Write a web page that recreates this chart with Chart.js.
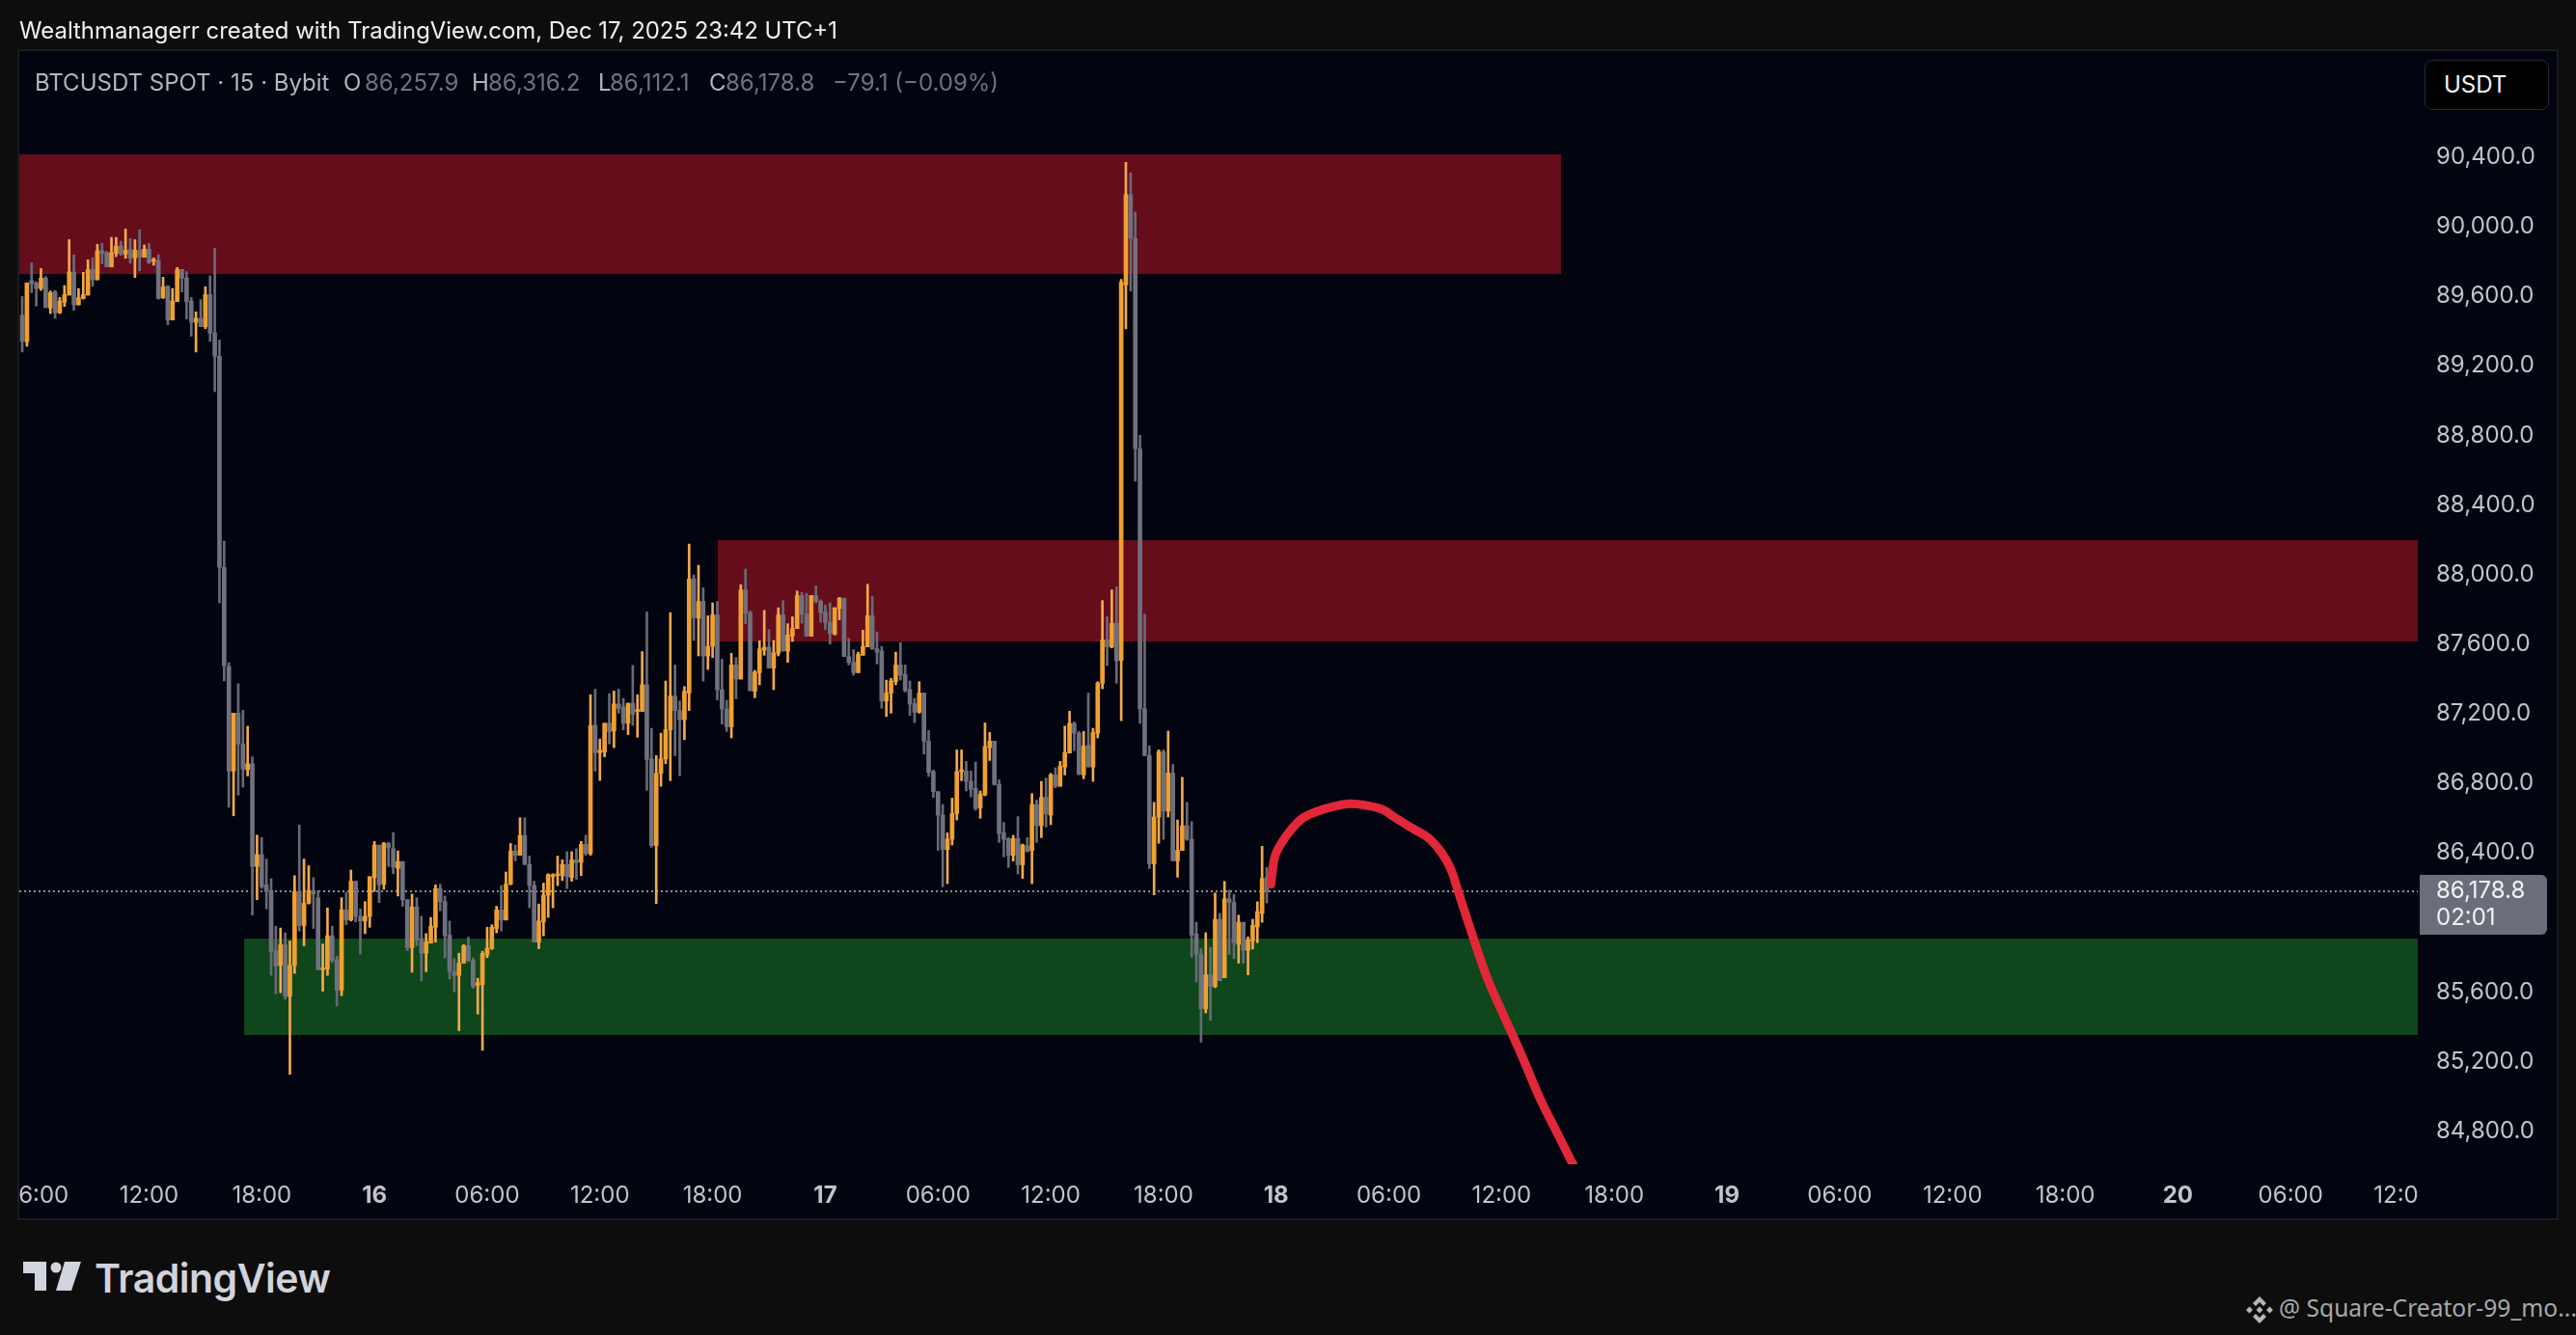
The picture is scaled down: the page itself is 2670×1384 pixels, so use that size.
<!DOCTYPE html>
<html>
<head>
<meta charset="utf-8">
<title>BTCUSDT 15</title>
<script src="https://cdn.jsdelivr.net/npm/chart.js@4/dist/chart.umd.min.js"></script>
<style>
  html, body { margin: 0; padding: 0; background: #0d0d0d; }
  body { position: relative; width: 2670px; height: 1384px; overflow: hidden; font-family: Inter, sans-serif; }
  .abs { position: absolute; white-space: nowrap; line-height: 1; }
  #panel { position: absolute; left: 18px; top: 51px; width: 2630px; height: 1210px; border: 2px solid #1c1c20; background: #02040f; }
  #chart { position: absolute; left: 20px; top: 0; }
  #x-mask { position: absolute; left: 2506px; top: 1207px; width: 142px; height: 54px; background: #02040f; }
  #header { left: 20px; top: 20px; font-size: 23.9px; color: #f0f0f0; }
  .legend { top: 74px; font-size: 24px; color: #b4b6bd; }
  .legend.val { color: #70737e; }
  #unit { position: absolute; left: 2513px; top: 62px; width: 127px; height: 50px; background: #000; border: 1px solid #2a2a2e; border-radius: 8px; }
  #unit span { position: absolute; left: 19px; top: 13px; font-size: 24px; line-height: 1; color: #f4f4f4; }
  #last { position: absolute; left: 2508px; top: 907px; width: 132px; height: 62px; background: #6b6e7a; border-radius: 0 6px 6px 0; color: #f2f2f2; font-size: 24px; }
  #last span { position: absolute; left: 17px; line-height: 1; }
  #brand { left: 98px; top: 1305px; font-size: 41px; font-weight: 600; letter-spacing: -0.5px; color: #d1d4dc; }
  #credit { left: 2362px; top: 1344px; font-family: "Noto Sans", sans-serif; font-size: 24.6px; color: #a6a8af; }
</style>
</head>
<body>
<div id="panel"></div>
<canvas id="chart" width="2630" height="1263"></canvas>
<div id="x-mask"></div>

<div class="abs" id="header">Wealthmanagerr created with TradingView.com, Dec 17, 2025 23:42 UTC+1</div>
<div class="abs legend" style="left:36px">BTCUSDT SPOT · 15 · Bybit</div>
<div class="abs legend" style="left:356px">O</div><div class="abs legend val" style="left:378px">86,257.9</div>
<div class="abs legend" style="left:489px">H</div><div class="abs legend val" style="left:506px">86,316.2</div>
<div class="abs legend" style="left:620px">L</div><div class="abs legend val" style="left:632px">86,112.1</div>
<div class="abs legend" style="left:735px">C</div><div class="abs legend val" style="left:752px">86,178.8</div>
<div class="abs legend val" style="left:863px">−79.1 (−0.09%)</div>

<div id="unit"><span>USDT</span></div>
<div id="last"><span style="top:4px">86,178.8</span><span style="top:32px">02:01</span></div>

<svg class="abs" style="left:24px;top:1308px" width="60" height="31" viewBox="0 0 60 31">
  <path fill="#d1d4dc" d="M0 0H24V30H12V12H0Z"/>
  <circle fill="#d1d4dc" cx="34" cy="6" r="5.5"/>
  <path fill="#d1d4dc" d="M43 0H60L50 30H34Z"/>
</svg>
<div class="abs" id="brand">TradingView</div>

<svg class="abs" style="left:2328px;top:1344px" width="28" height="28" viewBox="0 0 28 28">
  <path fill="#b4b6bc" d="M14 0L21 7L18 10L14 6L10 10L7 7Z M14 28L7 21L10 18L14 22L18 18L21 21Z M3.5 10.5L7 14L3.5 17.5L0 14Z M24.5 10.5L28 14L24.5 17.5L21 14Z M14 10.5L17.5 14L14 17.5L10.5 14Z"/>
</svg>
<div class="abs" id="credit">@ Square-Creator-99_mo...</div>

<script>
// ========== DATA ==========

const opens = [
  89491,89338,89689,89676,89644,89704,89532,89624,89504,89565,
  89606,89739,89550,89587,89606,89753,89694,89861,89851,89768,
  89846,89888,89842,89868,89820,89864,89824,89870,89800,89805,
  89591,89657,89463,89569,89753,89705,89572,89450,89473,89425,
  89609,89390,89255,88041,87472,86870,87203,87026,86878,86912,
  86322,86390,86216,86184,85838,85753,85872,85575,85753,86178,
  85982,86110,86184,86142,85728,85732,85923,85787,85611,86072,
  86014,86237,86035,86008,86035,86258,86445,86220,86454,86424,
  86311,86350,86131,85855,86089,85908,85823,85881,85972,86195,
  86120,85929,85717,85696,85766,85866,85781,85639,85643,85813,
  85849,85965,86072,86014,86220,86411,86386,86500,86333,86212,
  85887,86004,86156,86263,86269,86269,86333,86258,86360,86347,
  86449,86396,87133,86976,86980,87145,87101,87256,87239,87145,
  87260,87213,87213,87366,86940,86442,86857,86940,87107,87301,
  87218,87166,87319,87975,87750,87846,87532,87587,87768,87338,
  87227,87125,87480,87399,87911,87781,87329,87436,87565,87582,
  87462,87547,87768,87560,87646,87689,87879,87772,87646,87879,
  87846,87785,87726,87658,87805,87864,87528,87495,87436,87536,
  87584,87763,87573,87560,87273,87319,87384,87480,87425,87338,
  87258,87208,87319,87042,86867,86752,86617,86419,86478,86626,
  86867,86870,86811,86770,86658,86733,87005,87042,86793,86515,
  86482,86386,86482,86331,86441,86414,86678,86556,86719,86617,
  86848,86783,86894,86974,87144,87088,86848,87018,86894,87088,
  87375,87624,87584,87720,87506,89664,90184,89932,88723,87228,
  86959,86337,86606,86982,86640,86858,86354,86414,86556,86478,
  85934,85816,85504,85699,85632,86018,85682,86136,86115,85874,
  86001,85840,85894,85974,86052,86257.9,
];
const highs = [
  89598,89676,89792,89683,89759,89713,89630,89633,89593,89661,
  89925,89838,89644,89737,89809,89820,89898,89903,89857,89938,
  89938,89916,89986,89931,89925,89981,89894,89903,89820,89838,
  89709,89661,89644,89765,89753,89741,89593,89510,89580,89654,
  89717,89875,89349,88192,87493,87203,87372,87220,87128,86952,
  86502,86488,86364,86252,85978,85968,85940,85893,86269,86560,
  86364,86326,86258,86184,85876,86084,85978,85806,86142,86173,
  86301,86237,86078,86120,86263,86466,86445,86460,86460,86517,
  86411,86350,86131,86163,86142,86035,85936,86029,86216,86220,
  86152,86008,85792,85823,85872,85915,85796,85679,85834,85972,
  85987,86093,86212,86290,86454,86445,86602,86602,86381,86237,
  86106,86226,86280,86280,86381,86360,86407,86407,86424,86466,
  86502,87309,87341,87054,87145,87315,87330,87341,87288,87260,
  87478,87309,87557,87785,87116,86959,87088,87388,87781,87480,
  87273,87356,88175,87998,88053,87924,87763,87837,87846,87513,
  87277,87547,87523,87942,88031,87791,87449,87619,87794,87683,
  87621,87809,87850,87717,87757,87905,87898,87892,87879,87935,
  87855,87824,87837,87809,87868,87864,87633,87569,87554,87680,
  87944,87874,87670,87587,87393,87403,87554,87609,87480,87388,
  87288,87384,87319,87103,86876,86752,86678,86515,86715,86992,
  86992,86926,86870,86922,86756,87147,87092,87042,86820,86575,
  86488,86501,86608,86451,86488,86741,86704,86811,86830,86857,
  86889,86926,87129,87214,87153,87098,87098,87319,87116,87384,
  87850,87757,87911,87929,89697,90369,90309,90084,88800,87772,
  87016,86690,86992,86992,87100,86908,86589,86834,86690,86579,
  86001,85850,85941,85857,86169,86052,86236,86186,86162,86042,
  86001,85917,86018,86119,86438,86316.2,
];
const lows = [
  89279,89312,89620,89543,89633,89534,89500,89473,89500,89541,
  89606,89519,89550,89583,89606,89657,89694,89787,89768,89768,
  89827,89835,89818,89790,89707,89746,89824,89787,89778,89583,
  89587,89436,89463,89569,89624,89469,89369,89279,89425,89413,
  89340,89051,87837,87388,86662,86613,86732,86778,86842,86042,
  86131,86195,86078,85696,85590,85596,85558,85127,85707,85951,
  85866,86106,85965,85728,85605,85696,85770,85520,85579,85987,
  86008,86004,85819,85936,85972,86178,86114,86190,86322,86280,
  86152,86093,85838,85713,85866,85664,85717,85881,85887,86067,
  85796,85675,85601,85378,85766,85775,85622,85473,85265,85798,
  85845,85940,85951,86014,86216,86354,86386,86333,86084,85887,
  85849,85923,86029,86084,86212,86241,86195,86237,86248,86269,
  86386,86386,86870,86816,86952,87026,87005,87203,87107,87080,
  87133,87065,87213,86759,86432,86109,86783,86913,86815,86959,
  86843,87051,87218,87621,87532,87388,87454,87523,87279,87140,
  87098,87061,87286,87399,87717,87332,87292,87366,87536,87462,
  87338,87532,87560,87495,87615,87689,87720,87646,87646,87837,
  87726,87683,87600,87652,87739,87528,87480,87421,87436,87536,
  87584,87569,87486,87231,87184,87203,87366,87393,87325,87190,
  87149,87203,86968,86839,86719,86414,86205,86223,86445,86589,
  86815,86756,86722,86645,86599,86728,86931,86789,86460,86377,
  86316,86353,86279,86253,86405,86223,86460,86488,86549,86562,
  86774,86783,86848,86974,86987,86848,86826,86894,86811,87061,
  87343,87476,87578,87375,87160,89412,89630,88538,87144,86959,
  86310,86159,86455,86478,86606,86354,86260,86414,86472,85800,
  85658,85312,85480,85437,85625,85665,85682,85816,85793,85766,
  85766,85699,85847,85884,86001,86112.1,
];
const closes = [
  89340,89676,89672,89644,89704,89534,89620,89504,89572,89609,
  89739,89550,89591,89609,89753,89694,89861,89846,89768,89850,
  89887,89842,89864,89820,89864,89824,89870,89792,89811,89587,
  89654,89463,89572,89753,89702,89569,89450,89473,89425,89609,
  89388,89255,88041,87477,86870,87203,87026,86880,86912,86322,
  86390,86205,86178,85834,85749,85872,85575,85753,86178,85982,
  86110,86184,86163,85728,85738,85923,85781,85611,86072,86014,
  86237,86035,86008,86035,86263,86445,86216,86454,86428,86318,
  86350,86131,85855,86089,85898,85823,85887,85978,86195,86120,
  85925,85717,85696,85766,85866,85781,85632,85654,85823,85851,
  85972,86072,86014,86220,86411,86386,86500,86333,86212,85887,
  86008,86156,86275,86275,86280,86333,86263,86360,86343,86449,
  86396,87133,86976,86990,87145,87096,87256,87230,87145,87260,
  87196,87224,87366,86937,86442,86857,86940,87107,87301,87218,
  87166,87329,87975,87750,87846,87532,87587,87768,87338,87227,
  87125,87480,87399,87911,87776,87332,87439,87573,87582,87462,
  87550,87768,87560,87652,87689,87879,87772,87646,87879,87846,
  87781,87726,87661,87809,87864,87528,87495,87436,87541,87587,
  87763,87573,87554,87273,87319,87388,87480,87421,87332,87255,
  87208,87319,87042,86863,86752,86617,86419,86478,86626,86867,
  86876,86811,86765,86654,86737,87011,87042,86793,86512,86478,
  86386,86482,86331,86445,86408,86678,86556,86719,86623,86848,
  86783,86900,86977,87144,87088,86852,87014,86894,87092,87375,
  87624,87584,87720,87504,89680,90184,89932,88723,87228,86959,
  86337,86606,86982,86640,86858,86354,86414,86556,86478,85927,
  85816,85504,85699,85632,86018,85665,86136,86115,85884,86001,
  85840,85900,85984,86062,86253,86178.8,
];

// hand drawn forecast line: bar position / price
const forecastBars = [265.9,266.2,266.8,268.2,270.2,272.6,275.4,278.8,282.5,286.3,289.7,292.5,295.9,299.3,302.1,304.1,305.5,306.8,308.6,310.3,312.3,315.8,319.2,323.3,326.7,330.5];
const forecastPrices = [86220,86294,86386,86460,86534,86599,86635,86663,86682,86672,86648,86599,86543,86488,86405,86312,86201,86090,85943,85804,85656,85444,85240,84981,84797,84593];

// supply / demand zones
const zoneStart = [-0.62, 148.1, 47.25];
const zoneEnd = [327.65, 510.07, 510.07];
const zoneTop = [90415, 88197, 85907];
const zoneBottom = [89727, 87615, 85353];
const ZONE_COLORS = ['#660d1c', '#660d1c', '#0f461b'];

const lastPrice = 86178.8;
const xMin = -0.62;
const xMax = 510.07;
const yMin = 84610;
const yMax = 91003;

const priceTicks = [84800,85200,85600,86000,86400,86800,87200,87600,88000,88400,88800,89200,89600,90000,90400];
// 86,000 is hidden behind the last price tag in the original
const hiddenPriceTicks = [86000];
const timeTickBars = [3,27,51,75,99,123,147,171,195,219,243,267,291,315,339,363,387,411,435,459,483,507];
const timeTickLabels = ['06:00','12:00','18:00','16','06:00','12:00','18:00','17','06:00','12:00','18:00','18','06:00','12:00','18:00','19','06:00','12:00','18:00','20','06:00','12:00'];
const dayLabels = ['16', '17', '18', '19', '20'];

const UP_COLOR = '#f0a030';
const DOWN_COLOR = '#6f717e';
const UP_WICK = '#f2a950';
const DOWN_WICK = '#686a76';
const TICK_COLOR = '#c3c4c9';

// ========== PLUGINS ==========

const zonesPlugin = {
  id: 'zones',
  beforeDatasetsDraw(chart) {
    const { ctx, scales: { x, y }, chartArea: a } = chart;
    ctx.save();
    ctx.beginPath();
    ctx.rect(a.left, a.top, a.width, a.height);
    ctx.clip();
    zoneStart.forEach((start, i) => {
      const x0 = x.getPixelForValue(start);
      const x1 = x.getPixelForValue(zoneEnd[i]);
      const y0 = y.getPixelForValue(zoneTop[i]);
      const y1 = y.getPixelForValue(zoneBottom[i]);
      ctx.fillStyle = ZONE_COLORS[i];
      ctx.fillRect(x0, y0, x1 - x0, y1 - y0);
    });
    ctx.restore();
  }
};

// ========== CHART ==========

const wicks = opens.map((_, i) => ({ x: i, y: [lows[i], highs[i]] }));
const bodies = opens.map((o, i) => ({ x: i, y: [o, closes[i]] }));
const isUp = i => closes[i] >= opens[i];

new Chart(document.getElementById('chart'), {
  type: 'bar',
  data: {
    datasets: [
      {
        type: 'line',
        data: forecastBars.map((b, i) => ({ x: b, y: forecastPrices[i] })),
        borderColor: '#e12739',
        borderWidth: 9,
        borderCapStyle: 'round',
        borderJoinStyle: 'round',
        pointRadius: 0,
        tension: 0.4,
        order: 0,
      },
      {
        data: bodies,
        grouped: false,
        barThickness: 4,
        minBarLength: 2,
        backgroundColor: c => (isUp(c.dataIndex) ? UP_COLOR : DOWN_COLOR),
        order: 1,
      },
      {
        data: wicks,
        grouped: false,
        barThickness: 2,
        backgroundColor: c => (isUp(c.dataIndex) ? UP_WICK : DOWN_WICK),
        order: 2,
      },
      {
        type: 'line',
        data: [{ x: xMin, y: lastPrice }, { x: xMax, y: lastPrice }],
        borderColor: '#b9bbc2',
        borderWidth: 1.5,
        borderDash: [2, 3],
        pointRadius: 0,
        order: 3,
      },
    ]
  },
  options: {
    responsive: false,
    animation: false,
    devicePixelRatio: 1,
    layout: { autoPadding: false, padding: { top: 54, left: 0, right: 0, bottom: 0 } },
    plugins: { legend: { display: false }, tooltip: { enabled: false } },
    scales: {
      x: {
        type: 'linear',
        offset: false,
        min: xMin,
        max: xMax,
        grid: { display: false, drawTicks: false },
        border: { display: false },
        afterBuildTicks: s => { s.ticks = timeTickBars.map(v => ({ value: v })); },
        // no side padding, the edge labels get cut off like in TradingView
        afterFit: s => { s.height = 56; s.paddingLeft = 0; s.paddingRight = 0; },
        ticks: {
          autoSkip: false,
          maxRotation: 0,
          padding: 18,
          color: TICK_COLOR,
          font: c => ({
            family: 'Inter',
            size: 24,
            weight: dayLabels.includes(timeTickLabels[c.index]) ? '700' : '400',
          }),
          callback: (v, i) => timeTickLabels[i],
        }
      },
      y: {
        type: 'linear',
        position: 'right',
        min: yMin,
        max: yMax,
        grid: { display: false, drawTicks: false },
        border: { display: false },
        afterBuildTicks: s => { s.ticks = priceTicks.map(v => ({ value: v })); },
        afterFit: s => { s.width = 144; },
        ticks: {
          autoSkip: false,
          padding: 19,
          color: TICK_COLOR,
          font: { family: 'Inter', size: 24 },
          callback: v => (hiddenPriceTicks.includes(v) ? '' : v.toLocaleString('en-US', { minimumFractionDigits: 1 })),
        }
      }
    }
  },
  plugins: [zonesPlugin]
});
</script>
</body>
</html>
